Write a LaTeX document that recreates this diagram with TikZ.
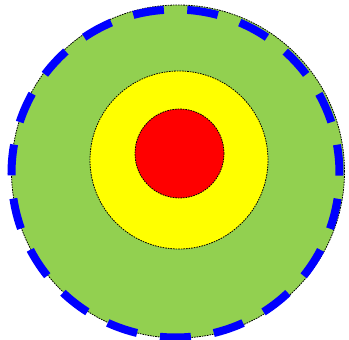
\documentclass[tikz,border=0pt]{standalone}
\usepackage{tikz}
\definecolor{zgreen}{HTML}{92D050}
\definecolor{zyellow}{HTML}{FFFF00}
\definecolor{zred}{HTML}{FF0000}
\definecolor{zblue}{HTML}{0000FF}
\tikzset{
  ring/.style={draw=black, line width=0.8pt, dash pattern=on 1.6pt off 1pt},
  bluedash/.style={draw=zblue, line width=8pt, dash pattern=on 31pt off 23.23pt, dash phase=42.6pt}
}
\begin{document}
\begin{tikzpicture}[x=1pt,y=1pt]
\useasboundingbox (0,0) rectangle (349,340);
\coordinate (cg) at (178,168.5);
\coordinate (cb) at (175.5,166.5);
\coordinate (cy) at (179,180);
\coordinate (cr) at (179.5,186.5);
\fill[zgreen] (cg) circle[radius=166.5];
\draw[ring] (cg) circle[radius=166.5];
\draw[bluedash] (cb) ++(90:164) arc[start angle=90, end angle=450, radius=164];
\fill[zyellow] (cy) circle[radius=89];
\draw[ring] (cy) circle[radius=89];
\fill[zred] (cr) circle[radius=44.5];
\draw[ring] (cr) circle[radius=44.5];
\end{tikzpicture}
\end{document}
